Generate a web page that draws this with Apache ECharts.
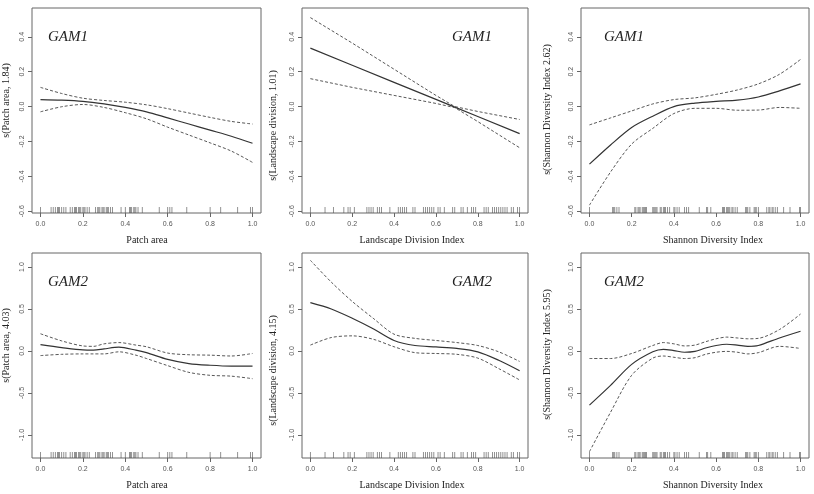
<!DOCTYPE html>
<html>
<head>
<meta charset="utf-8">
<script src="https://cdn.jsdelivr.net/npm/echarts@6/dist/echarts.min.js"></script>
<style>
  html, body { margin: 0; padding: 0; background: #fff; }
  #main { width: 814px; height: 494px; }
</style>
</head>
<body>
<div id="main"></div>
<script>
// tick labels
var xTicks = [0, 0.2, 0.4, 0.6, 0.8, 1.0];
var yTicksTop = [-0.6, -0.4, -0.2, 0, 0.2, 0.4];
var yTicksBottom = [-1.0, -0.5, 0, 0.5, 1.0];

// x positions of the smooth curves
var xs = [0, 0.1, 0.2, 0.3, 0.4, 0.5, 0.6, 0.7, 0.8, 0.9, 1.0];
var xsLand1 = [0, 0.2, 0.4, 0.6, 0.69, 0.8, 1.0];
var xsPatch2 = [0, 0.1, 0.2, 0.25, 0.3, 0.37, 0.45, 0.5, 0.6, 0.7, 0.8, 0.9, 1.0];
var xsShan2 = [0, 0.1, 0.2, 0.3, 0.35, 0.4, 0.45, 0.5, 0.55, 0.6, 0.65, 0.7, 0.75, 0.8, 0.9, 1.0];

// GAM1 - patch area
var patch1Fit = [0.04, 0.037, 0.03, 0.015, -0.005, -0.03, -0.065, -0.1, -0.135, -0.17, -0.21];
var patch1Up  = [0.11, 0.075, 0.048, 0.035, 0.025, 0.01, -0.012, -0.037, -0.062, -0.085, -0.1];
var patch1Lo  = [-0.03, -0.001, 0.012, -0.005, -0.035, -0.07, -0.118, -0.163, -0.208, -0.255, -0.32];

// GAM1 - landscape division
var land1Fit = [0.335, 0.237, 0.139, 0.041, -0.003, -0.057, -0.155];
var land1Up  = [0.51, 0.364, 0.214, 0.064, 0.0, -0.028, -0.074];
var land1Lo  = [0.16, 0.11, 0.064, 0.018, -0.006, -0.086, -0.236];

// GAM1 - shannon
var shan1Fit = [-0.33, -0.22, -0.12, -0.055, 0.0, 0.02, 0.03, 0.037, 0.055, 0.09, 0.13];
var shan1Up  = [-0.105, -0.065, -0.025, 0.015, 0.04, 0.05, 0.07, 0.095, 0.13, 0.185, 0.27];
var shan1Lo  = [-0.565, -0.375, -0.215, -0.125, -0.04, -0.01, -0.01, -0.021, -0.02, -0.005, -0.01];

// GAM2 - patch area
var patch2Fit = [0.075, 0.04, 0.012, 0.01, 0.025, 0.045, 0.01, -0.02, -0.1, -0.15, -0.17, -0.18, -0.18];
var patch2Up  = [0.205, 0.12, 0.06, 0.055, 0.085, 0.1, 0.07, 0.05, -0.025, -0.045, -0.05, -0.06, -0.03];
var patch2Lo  = [-0.055, -0.04, -0.035, -0.035, -0.035, -0.01, -0.05, -0.09, -0.175, -0.255, -0.29, -0.3, -0.33];

// GAM2 - landscape division
var land2Fit = [0.575, 0.5, 0.39, 0.265, 0.125, 0.065, 0.048, 0.03, -0.01, -0.11, -0.235];
var land2Up  = [1.08, 0.82, 0.59, 0.39, 0.2, 0.15, 0.125, 0.1, 0.065, -0.01, -0.125];
var land2Lo  = [0.07, 0.16, 0.18, 0.14, 0.05, -0.02, -0.03, -0.04, -0.085, -0.21, -0.345];

// GAM2 - shannon
var shan2Fit = [-0.645, -0.41, -0.16, -0.01, 0.02, 0.005, -0.015, -0.005, 0.035, 0.065, 0.08, 0.07, 0.055, 0.065, 0.155, 0.235];
var shan2Up  = [-0.09, -0.09, -0.03, 0.065, 0.1, 0.085, 0.06, 0.07, 0.11, 0.145, 0.165, 0.155, 0.145, 0.15, 0.255, 0.44];
var shan2Lo  = [-1.2, -0.73, -0.29, -0.085, -0.06, -0.075, -0.09, -0.08, -0.04, -0.015, -0.005, -0.015, -0.035, -0.02, 0.055, 0.03];

// rug (observed values)
var rugPatch = [0, 0.05, 0.06, 0.07, 0.08, 0.085, 0.09, 0.1, 0.11, 0.12, 0.14, 0.15, 0.16, 0.165, 0.17, 0.18, 0.185,
  0.19, 0.2, 0.205, 0.21, 0.22, 0.23, 0.26, 0.27, 0.275, 0.28, 0.29, 0.295, 0.3, 0.31, 0.315, 0.32, 0.33, 0.34,
  0.38, 0.4, 0.42, 0.425, 0.43, 0.44, 0.445, 0.45, 0.46, 0.48, 0.56, 0.6, 0.61, 0.62, 0.69, 0.8, 0.85, 0.93, 0.99, 1.0];
var rugLand = [0, 0.07, 0.11, 0.16, 0.18, 0.19, 0.21, 0.27, 0.28, 0.29, 0.3, 0.32, 0.33, 0.34, 0.38, 0.42, 0.43,
  0.44, 0.45, 0.46, 0.49, 0.5, 0.54, 0.55, 0.56, 0.57, 0.58, 0.59, 0.61, 0.62, 0.64, 0.68, 0.69, 0.72, 0.73, 0.75,
  0.77, 0.78, 0.79, 0.83, 0.84, 0.85, 0.87, 0.88, 0.89, 0.9, 0.91, 0.92, 0.93, 0.94, 0.96, 0.97, 0.99, 1.0];
var rugShan = [0, 0.11, 0.115, 0.12, 0.13, 0.14, 0.215, 0.22, 0.23, 0.235, 0.24, 0.25, 0.255, 0.26, 0.265, 0.27,
  0.3, 0.305, 0.31, 0.315, 0.32, 0.335, 0.34, 0.35, 0.355, 0.36, 0.37, 0.38, 0.4, 0.405, 0.415, 0.425, 0.45, 0.46,
  0.47, 0.52, 0.555, 0.56, 0.575, 0.63, 0.635, 0.64, 0.65, 0.655, 0.66, 0.665, 0.675, 0.68, 0.69, 0.7, 0.74, 0.745,
  0.75, 0.76, 0.78, 0.785, 0.79, 0.8, 0.84, 0.85, 0.855, 0.865, 0.87, 0.88, 0.89, 0.92, 0.95, 0.995, 1.0];

var xNames = ['Patch area', 'Landscape Division Index', 'Shannon Diversity Index'];
var yNamesTop = ['s(Patch area, 1.84)', 's(Landscape division, 1.01)', 's(Shannon Diversity Index 2.62)'];
var yNamesBottom = ['s(Patch area, 4.03)', 's(Landscape division, 4.15)', 's(Shannon Diversity Index 5.95)'];
var modelNames = ['GAM1', 'GAM2'];

var panels = [
  { x: xs, fit: patch1Fit, up: patch1Up, lo: patch1Lo, rug: rugPatch, row: 0, col: 0, smooth: 0.3 },
  { x: xsLand1, fit: land1Fit, up: land1Up, lo: land1Lo, rug: rugLand, row: 0, col: 1, smooth: false },
  { x: xs, fit: shan1Fit, up: shan1Up, lo: shan1Lo, rug: rugShan, row: 0, col: 2, smooth: 0.3 },
  { x: xsPatch2, fit: patch2Fit, up: patch2Up, lo: patch2Lo, rug: rugPatch, row: 1, col: 0, smooth: 0.3 },
  { x: xs, fit: land2Fit, up: land2Up, lo: land2Lo, rug: rugLand, row: 1, col: 1, smooth: 0.3 },
  { x: xsShan2, fit: shan2Fit, up: shan2Up, lo: shan2Lo, rug: rugShan, row: 1, col: 2, smooth: 0.3 }
];

// layout (px)
var colLeft = [32, 302, 581];
var colWidth = [229, 226, 228];
var rowTop = [8, 253];
var boxH = 205;
var yRange = [[-0.61, 0.565], [-1.275, 1.167]];
var xTitleX = [147, 412, 713];
var yTitleX = [6, 273, 547];
var yTitleShift = [-10, 15, -1];
var gamX = [68, 472, 624];

function pairs(xv, yv) {
  return xv.map(function (x, i) { return [x, yv[i]]; });
}
function fmt(v) { return v.toFixed(1); }

var grids = [], xAxes = [], yAxes = [], series = [], graphics = [];
var serif = '"Liberation Serif", "DejaVu Serif", serif';
var sans = '"Liberation Sans", Arial, sans-serif';

panels.forEach(function (p, i) {
  var top = rowTop[p.row];
  grids.push({
    left: colLeft[p.col], top: top, width: colWidth[p.col], height: boxH,
    show: true, borderColor: '#666', borderWidth: 1, containLabel: false
  });
  xAxes.push({
    type: 'value', gridIndex: i, min: -0.04, max: 1.04, position: 'bottom',
    axisLine: { show: false, onZero: false }, splitLine: { show: false },
    axisTick: { show: true, length: 4, customValues: xTicks, lineStyle: { color: '#666' } },
    axisLabel: { customValues: xTicks, formatter: fmt, fontSize: 7, color: '#555', margin: 8, fontFamily: sans }
  });
  var yt = p.row === 0 ? yTicksTop : yTicksBottom;
  yAxes.push({
    type: 'value', gridIndex: i, min: yRange[p.row][0], max: yRange[p.row][1], position: 'left',
    axisLine: { show: false, onZero: false }, splitLine: { show: false },
    axisTick: { show: true, length: 4, customValues: yt, lineStyle: { color: '#666' } },
    axisLabel: { customValues: yt, formatter: fmt, fontSize: 7, color: '#555', margin: 6, rotate: 90, fontFamily: sans }
  });

  series.push({
    type: 'line', xAxisIndex: i, yAxisIndex: i, data: pairs(p.x, p.fit), smooth: p.smooth,
    showSymbol: false, silent: true, lineStyle: { color: '#333', width: 1.2 }
  });
  [p.up, p.lo].forEach(function (band) {
    series.push({
      type: 'line', xAxisIndex: i, yAxisIndex: i, data: pairs(p.x, band), smooth: p.smooth,
      showSymbol: false, silent: true, lineStyle: { color: '#444', width: 0.9, type: [3, 2] }
    });
  });
  series.push({
    type: 'scatter', xAxisIndex: i, yAxisIndex: i, silent: true,
    symbol: 'rect', symbolSize: [0.8, 6], symbolOffset: [0, -3],
    itemStyle: { color: '#555' },
    data: p.rug.map(function (x) { return [x, yRange[p.row][0]]; })
  });

  // texts
  graphics.push({
    type: 'text', x: xTitleX[p.col], y: top + boxH + 27,
    style: { text: xNames[p.col], font: '10px ' + serif, fill: '#222', align: 'center', verticalAlign: 'middle' }
  });
  graphics.push({
    type: 'text', x: yTitleX[p.col], y: top + boxH / 2 + yTitleShift[p.col], rotation: Math.PI / 2,
    style: { text: (p.row === 0 ? yNamesTop : yNamesBottom)[p.col], font: '10px ' + serif, fill: '#222',
      align: 'center', verticalAlign: 'middle' }
  });
  graphics.push({
    type: 'text', x: gamX[p.col], y: top + 29,
    style: { text: modelNames[p.row], font: 'italic 15px ' + serif, fill: '#222', align: 'center', verticalAlign: 'middle' }
  });
});

var chart = echarts.init(document.getElementById('main'), null, { renderer: 'canvas' });
chart.setOption({
  animation: false,
  backgroundColor: '#fff',
  grid: grids,
  xAxis: xAxes,
  yAxis: yAxes,
  series: series,
  graphic: graphics
});
</script>
</body>
</html>
